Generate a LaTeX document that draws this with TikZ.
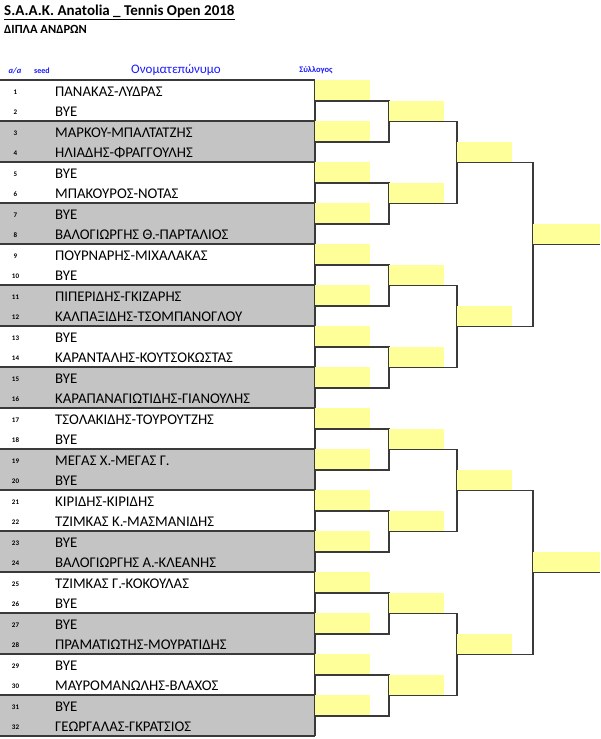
\documentclass[tikz,border=0pt]{standalone}
\usepackage{fontspec}
\setmainfont{Carlito}
\usetikzlibrary{calc}
\definecolor{yel}{HTML}{FFFF99}
\definecolor{grayfill}{HTML}{C4C4C4}
\definecolor{linec}{HTML}{3A3A3A}
\definecolor{hblue}{HTML}{1A1AFF}
\tikzset{
  yelbox/.style={fill=yel, draw=none, inner sep=0pt, anchor=north west, minimum height=20.5pt},
  br/.style={draw=linec, line width=1.3pt},
  tab/.style={draw=linec, line width=1.6pt},
  nm/.style={font=\fontsize{14.8}{16}\selectfont, anchor=base west, inner sep=0pt},
  nr/.style={font=\fontsize{7}{8}\selectfont\bfseries, anchor=base, inner sep=0pt},
  hd/.style={text=hblue, inner sep=0pt, anchor=base}
}
\begin{document}
\begin{tikzpicture}[x=1pt,y=-1pt]
\useasboundingbox (0,0) rectangle (600,739);
% titles
\node[anchor=base west, inner sep=0pt, font=\fontsize{15}{17}\selectfont\bfseries] (title) at (4,15) {\underline{S.A.A.K. Anatolia \_ Tennis Open 2018}};
\node[anchor=base west, inner sep=0pt, font=\fontsize{12.5}{14}\selectfont\bfseries] (sub) at (4,33.5) {ΔΙΠΛΑ ΑΝΔΡΩΝ};
% headers
\node[hd, font=\fontsize{8.5}{10}\selectfont\bfseries\itshape] (haa) at (15,73) {a/a};
\node[hd, font=\fontsize{8}{10}\selectfont\bfseries] (hseed) at (42,73) {seed};
\node[hd, font=\fontsize{13}{15}\selectfont] (hname) at (176,73) {Ονοματεπώνυμο};
\node[hd, font=\fontsize{8.5}{10}\selectfont\bfseries] (hclub) at (316,72) {Σύλλογος};
% table fills
\foreach \g in {1,3,...,15} {
  \pgfmathsetmacro\tp{80+41*\g}
  \fill[grayfill] (0,\tp) rectangle (315,\tp+41);
}
% names
\foreach \i/\nme in {1/{ΠΑΝΑΚΑΣ-ΛΥΔΡΑΣ},2/{BYE},3/{ΜΑΡΚΟΥ-ΜΠΑΛΤΑΤΖΗΣ},4/{ΗΛΙΑΔΗΣ-ΦΡΑΓΓΟΥΛΗΣ},
  5/{BYE},6/{ΜΠΑΚΟΥΡΟΣ-ΝΟΤΑΣ},7/{BYE},8/{ΒΑΛΟΓΙΩΡΓΗΣ Θ.-ΠΑΡΤΑΛΙΟΣ},
  9/{ΠΟΥΡΝΑΡΗΣ-ΜΙΧΑΛΑΚΑΣ},10/{BYE},11/{ΠΙΠΕΡΙΔΗΣ-ΓΚΙΖΑΡΗΣ},12/{ΚΑΛΠΑΞΙΔΗΣ-ΤΣΟΜΠΑΝΟΓΛΟΥ},
  13/{BYE},14/{ΚΑΡΑΝΤΑΛΗΣ-ΚΟΥΤΣΟΚΩΣΤΑΣ},15/{BYE},16/{ΚΑΡΑΠΑΝΑΓΙΩΤΙΔΗΣ-ΓΙΑΝΟΥΛΗΣ},
  17/{ΤΣΟΛΑΚΙΔΗΣ-ΤΟΥΡΟΥΤΖΗΣ},18/{BYE},19/{ΜΕΓΑΣ Χ.-ΜΕΓΑΣ Γ.},20/{BYE},
  21/{ΚΙΡΙΔΗΣ-ΚΙΡΙΔΗΣ},22/{ΤΖΙΜΚΑΣ Κ.-ΜΑΣΜΑΝΙΔΗΣ},23/{BYE},24/{ΒΑΛΟΓΙΩΡΓΗΣ Α.-ΚΛΕΑΝΗΣ},
  25/{ΤΖΙΜΚΑΣ Γ.-ΚΟΚΟΥΛΑΣ},26/{BYE},27/{BYE},28/{ΠΡΑΜΑΤΙΩΤΗΣ-ΜΟΥΡΑΤΙΔΗΣ},
  29/{BYE},30/{ΜΑΥΡΟΜΑΝΩΛΗΣ-ΒΛΑΧΟΣ},31/{BYE},32/{ΓΕΩΡΓΑΛΑΣ-ΓΚΡΑΤΣΙΟΣ}} {
  \pgfmathsetmacro\cy{80+20.5*(\i-1)+10.25}
  \node[nr] (k\i) at (15.5,\cy+3.8) {\i};
  \node[nm] (n\i) at (55,\cy+6) {\nme};
}
% table lines
\foreach \g in {0,...,16} {
  \pgfmathsetmacro\tp{80+41*\g}
  \draw[tab] (0,\tp) -- (315,\tp);
}
\draw[tab] (315,80) -- (315,736);
% round 1
\foreach \g in {0,...,15} {
  \pgfmathsetmacro\tp{80+41*\g}
  \node[yelbox, minimum width=55pt] (a\g) at (315,\tp) {};
}
\foreach \m in {0,...,7} {
  \pgfmathtruncatemacro\u{2*\m}
  \pgfmathtruncatemacro\v{2*\m+1}
  \draw[br] (a\u.south west) -- ++(74,0) |- (a\v.south west);
}
% round 2
\foreach \m in {0,...,7} {
  \pgfmathsetmacro\tp{100.5+82*\m}
  \node[yelbox, minimum width=55pt] (b\m) at (389,\tp) {};
}
\foreach \n in {0,...,3} {
  \pgfmathtruncatemacro\u{2*\n}
  \pgfmathtruncatemacro\v{2*\n+1}
  \draw[br] (b\u.south west) -- ++(68,0) |- (b\v.south west);
}
% round 3
\foreach \n in {0,...,3} {
  \pgfmathsetmacro\tp{141.5+164*\n}
  \node[yelbox, minimum width=55pt] (c\n) at (457,\tp) {};
}
\foreach \p in {0,1} {
  \pgfmathtruncatemacro\u{2*\p}
  \pgfmathtruncatemacro\v{2*\p+1}
  \draw[br] (c\u.south west) -- ++(76,0) |- (c\v.south west);
}
% round 4
\foreach \p in {0,1} {
  \pgfmathsetmacro\tp{223.5+328*\p}
  \node[yelbox, minimum width=67pt] (d\p) at (533,\tp) {};
  \draw[br] (d\p.south west) -- (d\p.south east);
}
\end{tikzpicture}
\end{document}
